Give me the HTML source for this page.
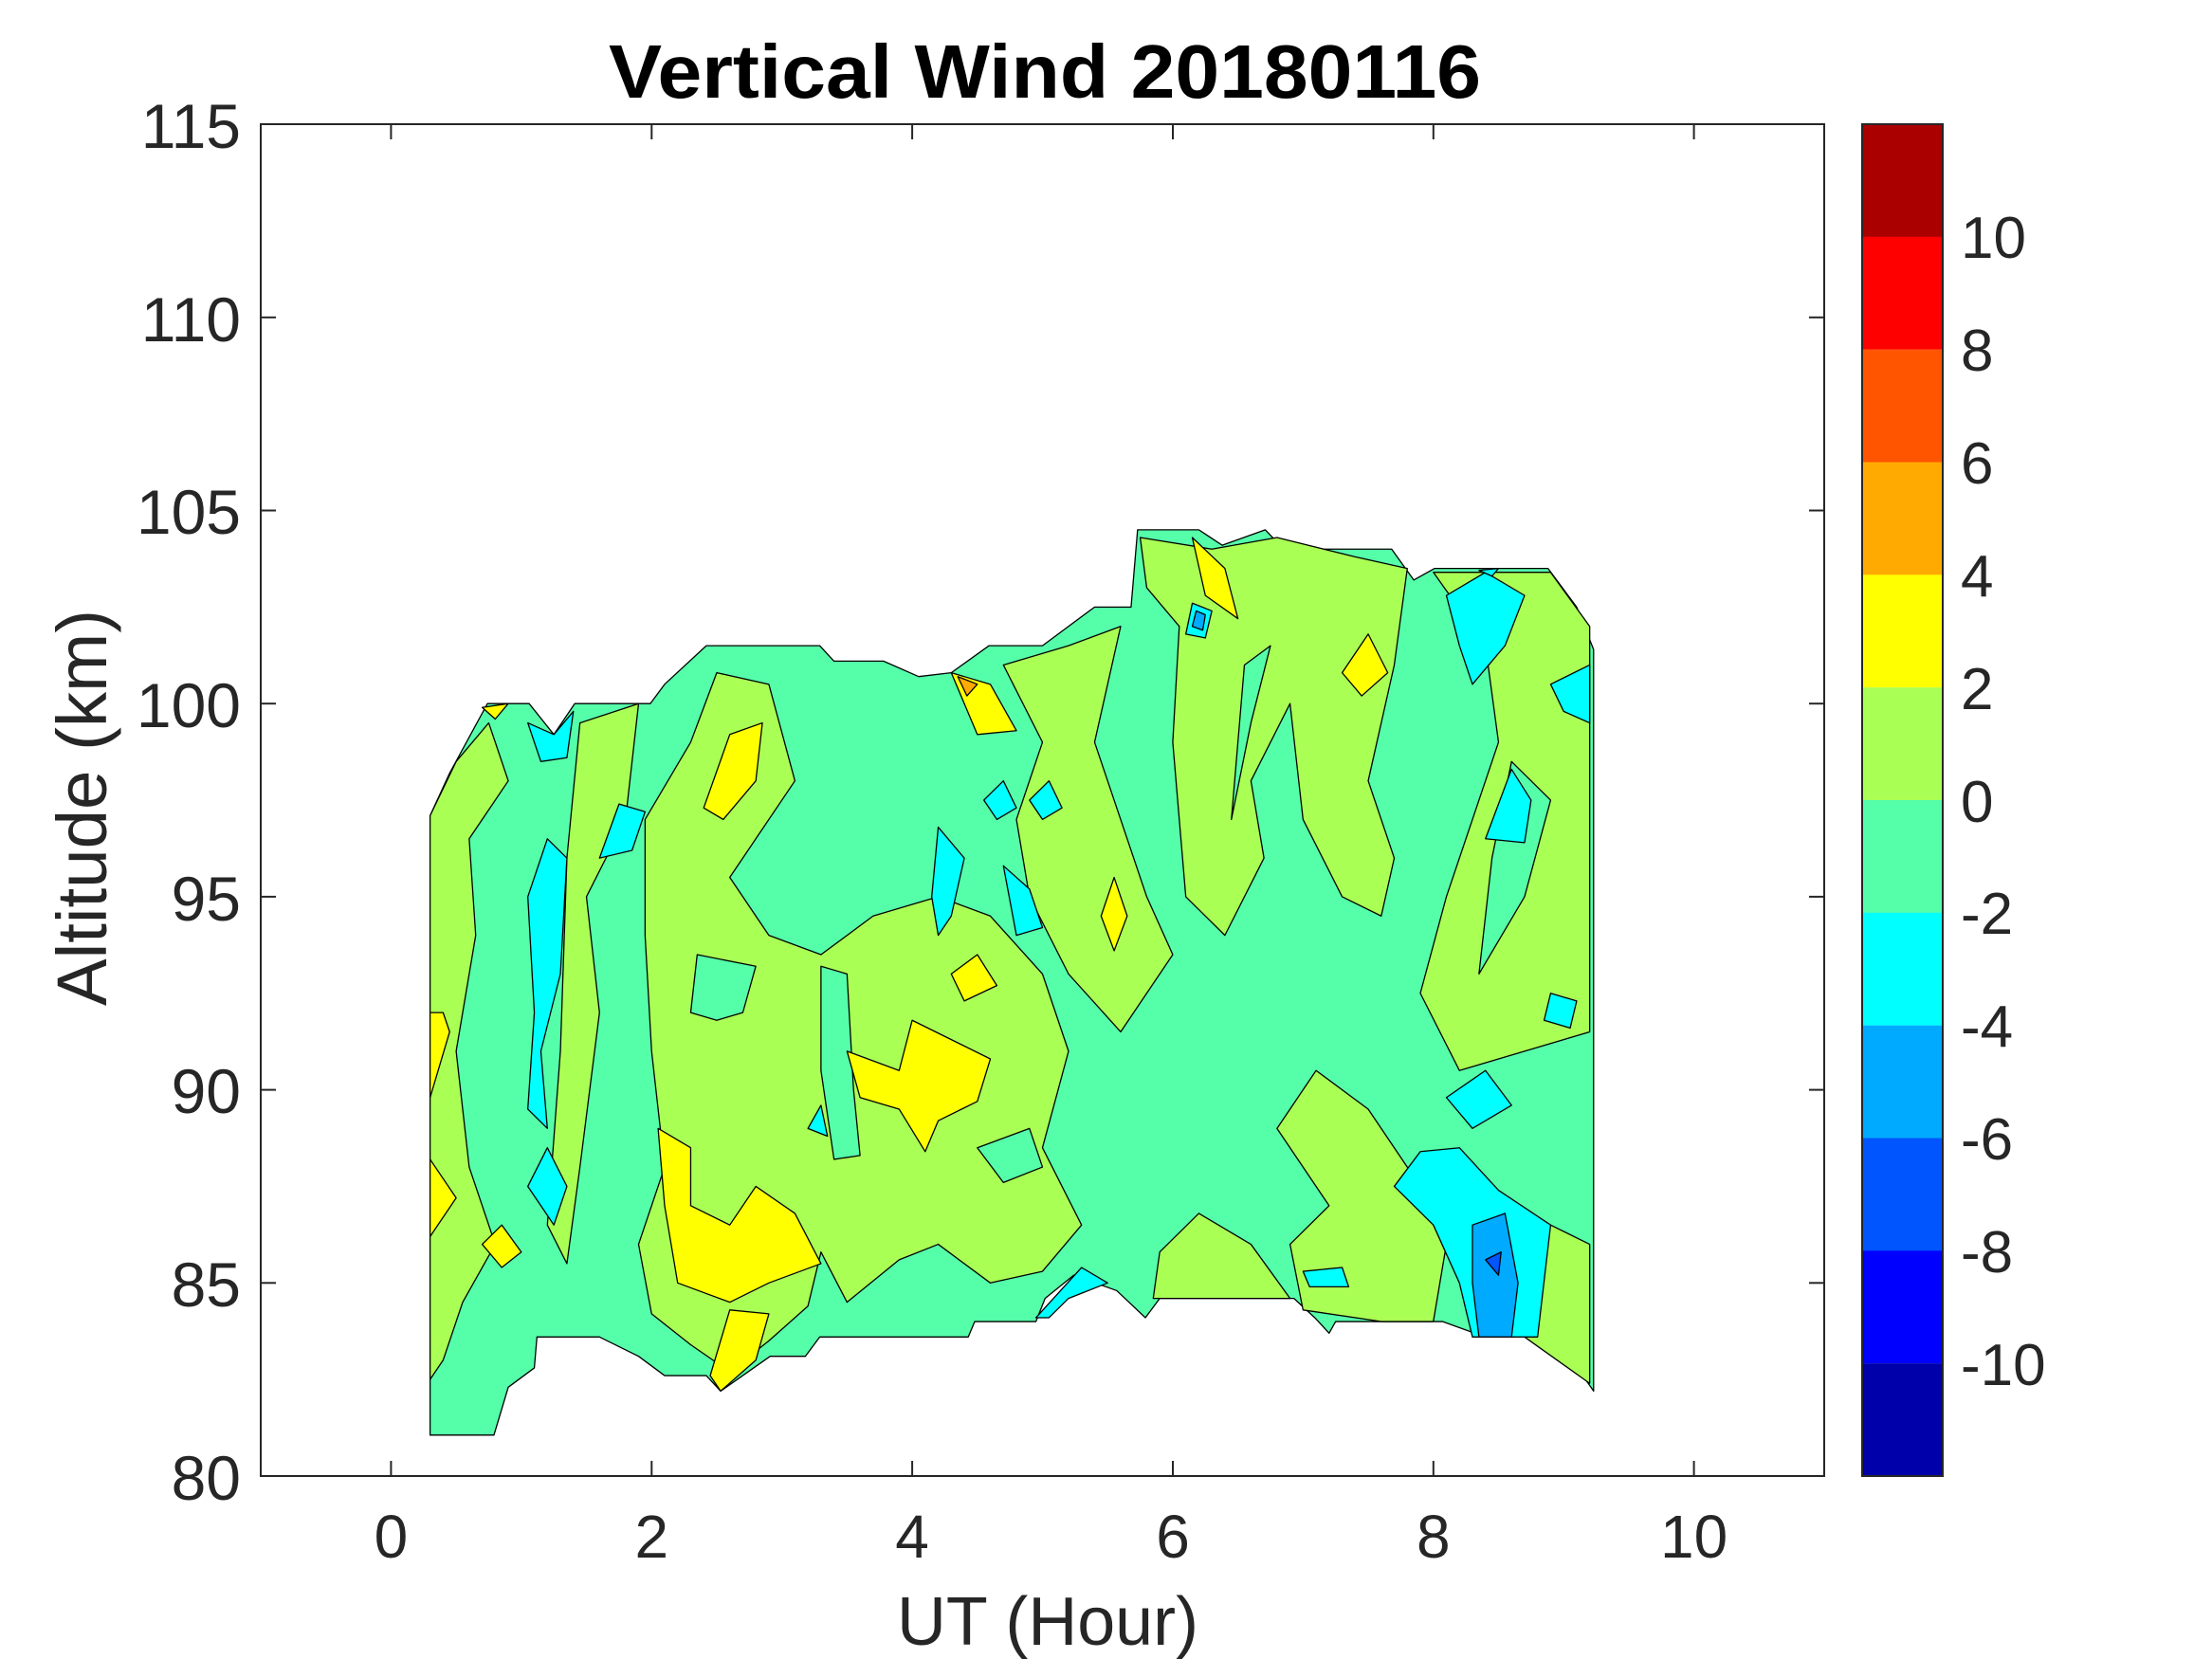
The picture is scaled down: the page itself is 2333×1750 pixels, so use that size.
<!DOCTYPE html>
<html><head><meta charset="utf-8"><style>
html,body{margin:0;padding:0;background:#fff}
svg{display:block}
text{font-family:"Liberation Sans",sans-serif;fill:#262626}
.p polygon{stroke:#000;stroke-width:1.3;vector-effect:non-scaling-stroke;stroke-linejoin:round}
</style></head><body>
<svg width="2333" height="1750" viewBox="0 0 2333 1750" xmlns="http://www.w3.org/2000/svg">
<rect width="2333" height="1750" fill="#fff"/>
<g class="p" transform="translate(412.4,4816.2) scale(137.42,-40.74)">
<polygon fill="#55FFAA" points="0.3,81.06 0.3,97.1 0.45,98.2 0.74,100 1.06,100 1.25,99.2 1.41,100 1.99,100 2.1,100.5 2.42,101.5 3.29,101.5 3.4,101.1 3.78,101.1 4.05,100.7 4.3,100.8 4.59,101.5 5.0,101.5 5.4,102.5 5.68,102.5 5.73,104.5 6.2,104.5 6.38,104.1 6.71,104.5 6.85,104 7.47,104 7.68,104 7.85,103.2 8.01,103.5 8.88,103.5 9.1,102.5 9.23,101.4 9.23,82.2 8.94,83.6 8.4,83.6 8.07,84 7.25,84 7.2,83.7 7.09,84.1 6.93,84.6 5.9,84.6 5.79,84.1 5.57,84.8 5.24,85.2 5.02,84.6 4.95,84 4.48,84 4.43,83.6 3.29,83.6 3.18,83.1 2.91,83.1 2.53,82.2 2.42,82.6 2.1,82.6 1.9,83.1 1.6,83.6 1.12,83.6 1.1,82.8 0.9,82.3 0.79,81.06"/>
<polygon fill="#AAFF55" points="0.3,97.1 0.5,98.5 0.75,99.5 0.9,98 0.6,96.5 0.65,94 0.5,91 0.6,88 0.8,86 0.55,84.5 0.4,83 0.3,82.5"/>
<polygon fill="#AAFF55" points="1.45,99.5 1.9,100 1.8,97 1.5,95 1.6,92 1.45,88 1.35,85.5 1.2,86.5 1.3,91 1.35,96"/>
<polygon fill="#AAFF55" points="1.95,97 2.3,99 2.5,100.8 2.9,100.5 3.1,98 2.8,96.5 2.6,95.5 2.9,94 3.3,93.5 3.7,94.5 4.2,95 4.6,94.5 5.0,93 5.2,91 5.0,88.5 5.3,86.5 5.0,85.3 4.6,85 4.2,86 3.9,85.6 3.5,84.5 3.3,85.8 3.2,84.4 2.9,83.5 2.6,82.7 2.3,83.4 2.0,84.2 1.9,86 2.1,88 2.0,91 1.95,94"/>
<polygon fill="#AAFF55" points="4.7,101 5.2,101.5 5.6,102 5.4,99 5.6,97 5.8,95 6.0,93.5 5.6,91.5 5.2,93 4.9,95 4.8,97 5.0,99"/>
<polygon fill="#AAFF55" points="5.75,104.3 6.3,104 6.8,104.3 7.4,103.8 7.8,103.5 7.7,101 7.5,98 7.7,96 7.6,94.5 7.3,95 7.0,97 6.9,100 6.6,98 6.7,96 6.4,94 6.1,95 6.0,99 6.05,102 5.8,103"/>
<polygon fill="#AAFF55" points="8.0,103.4 8.4,101.5 8.5,99 8.3,97 8.1,95 7.9,92.5 8.2,90.5 8.7,91 9.2,91.5 9.2,102 8.9,103.4"/>
<polygon fill="#AAFF55" points="7.0,84.3 7.6,84 8.0,84 8.1,86 7.8,88 7.5,89.5 7.1,90.5 6.8,89 7.2,87 6.9,86"/>
<polygon fill="#AAFF55" points="8.7,83.6 9.2,82.4 9.2,86 8.9,86.5"/>
<polygon fill="#AAFF55" points="5.85,84.6 6.9,84.6 6.6,86 6.2,86.8 5.9,85.8"/>
<polygon fill="#55FFAA" points="3.3,93.2 3.5,93 3.55,90 3.6,88.3 3.4,88.2 3.3,90.5"/>
<polygon fill="#55FFAA" points="2.3,92 2.35,93.5 2.8,93.2 2.7,92 2.5,91.8"/>
<polygon fill="#55FFAA" points="4.5,88.5 4.9,89 5.0,88 4.7,87.6"/>
<polygon fill="#55FFAA" points="6.45,97 6.6,99.5 6.75,101.5 6.55,101"/>
<polygon fill="#55FFAA" points="8.35,93 8.7,95 8.9,97.5 8.6,98.5 8.45,96"/>
<polygon fill="#FFFF00" points="2.05,89 2.3,88.5 2.3,87 2.6,86.5 2.8,87.5 3.1,86.8 3.3,85.5 2.9,85 2.6,84.5 2.2,85 2.1,87"/>
<polygon fill="#FFFF00" points="3.5,91 3.9,90.5 4.0,91.8 4.3,91.3 4.6,90.8 4.5,89.7 4.2,89.2 4.1,88.4 3.9,89.5 3.6,89.8"/>
<polygon fill="#FFFF00" points="2.4,97.3 2.6,99.2 2.85,99.5 2.8,98 2.55,97"/>
<polygon fill="#FFFF00" points="0.3,89.8 0.45,91.5 0.4,92 0.3,92"/>
<polygon fill="#FFFF00" points="0.3,86.2 0.5,87.2 0.3,88.2"/>
<polygon fill="#FFFF00" points="5.45,94.5 5.55,95.5 5.65,94.5 5.55,93.6"/>
<polygon fill="#FFFF00" points="6.15,104.3 6.4,103.5 6.5,102.2 6.25,102.8"/>
<polygon fill="#FFFF00" points="7.3,100.8 7.5,101.8 7.65,100.8 7.45,100.2"/>
<polygon fill="#FFFF00" points="2.45,82.6 2.53,82.2 2.8,83 2.9,84.2 2.6,84.3"/>
<polygon fill="#FFFF00" points="4.3,93 4.5,93.5 4.65,92.7 4.4,92.3"/>
<polygon fill="#FFFF00" points="0.7,86 0.85,86.5 1.0,85.8 0.85,85.4"/>
<polygon fill="#FFFF00" points="4.3,100.8 4.6,100.5 4.8,99.3 4.5,99.2 4.4,100"/>
<polygon fill="#FFAA00" points="4.35,100.7 4.5,100.5 4.42,100.2"/>
<polygon fill="#FFFF00" points="0.7,99.9 0.9,100 0.8,99.6"/>
<polygon fill="#00FFFF" points="1.05,95 1.2,96.5 1.35,96 1.3,93 1.15,91 1.2,89 1.05,89.5 1.1,92"/>
<polygon fill="#00FFFF" points="1.05,87.5 1.2,88.5 1.35,87.5 1.25,86.5"/>
<polygon fill="#00FFFF" points="1.6,96 1.75,97.4 1.95,97.2 1.85,96.2"/>
<polygon fill="#00FFFF" points="1.05,99.5 1.25,99.2 1.4,99.8 1.35,98.6 1.15,98.5"/>
<polygon fill="#00FFFF" points="4.2,96.8 4.4,96 4.3,94.5 4.2,94 4.15,95"/>
<polygon fill="#00FFFF" points="4.7,95.8 4.9,95.2 5.0,94.2 4.8,94"/>
<polygon fill="#00FFFF" points="4.55,97.5 4.7,98 4.8,97.3 4.65,97"/>
<polygon fill="#00FFFF" points="4.9,97.5 5.05,98 5.15,97.3 5.0,97"/>
<polygon fill="#00FFFF" points="8.1,102.8 8.4,103.4 8.7,102.8 8.55,101.5 8.3,100.5 8.2,101.5"/>
<polygon fill="#00FFFF" points="8.9,100.5 9.2,101 9.2,99.5 9.0,99.8"/>
<polygon fill="#00FFFF" points="8.4,96.5 8.6,98.3 8.75,97.5 8.7,96.4"/>
<polygon fill="#00FFFF" points="8.9,92.5 9.1,92.3 9.05,91.6 8.85,91.8"/>
<polygon fill="#00FFFF" points="8.1,89.8 8.4,90.5 8.6,89.6 8.3,89"/>
<polygon fill="#00FFFF" points="7.9,88.4 8.2,88.5 8.5,87.4 8.9,86.5 8.8,83.6 8.3,83.6 8.2,85 8.0,86.5 7.7,87.5"/>
<polygon fill="#00AAFF" points="8.3,86.5 8.55,86.8 8.65,85 8.6,83.6 8.35,83.6 8.3,85"/>
<polygon fill="#0055FF" points="8.4,85.6 8.52,85.8 8.5,85.2"/>
<polygon fill="#00FFFF" points="4.95,84.1 5.3,85.4 5.5,85 5.2,84.6 5.05,84.1"/>
<polygon fill="#00FFFF" points="7.0,85.3 7.3,85.4 7.35,84.9 7.05,84.9"/>
<polygon fill="#00FFFF" points="6.1,101.8 6.15,102.6 6.3,102.4 6.25,101.7"/>
<polygon fill="#00AAFF" points="6.15,102 6.18,102.4 6.25,102.3 6.23,101.9"/>
<polygon fill="#00FFFF" points="3.2,89 3.3,89.6 3.35,88.8"/>
<polygon fill="#00FFFF" points="8.35,103.45 8.5,103.5 8.45,103.3"/>
</g>
<rect x="275" y="131" width="1649" height="1426" fill="none" stroke="#262626" stroke-width="2"/>
<g stroke="#262626" stroke-width="2">
<line x1="412.4" y1="1557" x2="412.4" y2="1541"/><line x1="412.4" y1="131" x2="412.4" y2="147"/>
<line x1="687.3" y1="1557" x2="687.3" y2="1541"/><line x1="687.3" y1="131" x2="687.3" y2="147"/>
<line x1="962.1" y1="1557" x2="962.1" y2="1541"/><line x1="962.1" y1="131" x2="962.1" y2="147"/>
<line x1="1237" y1="1557" x2="1237" y2="1541"/><line x1="1237" y1="131" x2="1237" y2="147"/>
<line x1="1511.8" y1="1557" x2="1511.8" y2="1541"/><line x1="1511.8" y1="131" x2="1511.8" y2="147"/>
<line x1="1786.6" y1="1557" x2="1786.6" y2="1541"/><line x1="1786.6" y1="131" x2="1786.6" y2="147"/>
<line x1="275" y1="1353.3" x2="291" y2="1353.3"/><line x1="1924" y1="1353.3" x2="1908" y2="1353.3"/>
<line x1="275" y1="1149.6" x2="291" y2="1149.6"/><line x1="1924" y1="1149.6" x2="1908" y2="1149.6"/>
<line x1="275" y1="945.9" x2="291" y2="945.9"/><line x1="1924" y1="945.9" x2="1908" y2="945.9"/>
<line x1="275" y1="742.2" x2="291" y2="742.2"/><line x1="1924" y1="742.2" x2="1908" y2="742.2"/>
<line x1="275" y1="538.5" x2="291" y2="538.5"/><line x1="1924" y1="538.5" x2="1908" y2="538.5"/>
<line x1="275" y1="334.8" x2="291" y2="334.8"/><line x1="1924" y1="334.8" x2="1908" y2="334.8"/>
</g>
<g font-size="64" text-anchor="middle">
<text x="412.4" y="1643">0</text><text x="687.3" y="1643">2</text><text x="962.1" y="1643">4</text>
<text x="1237" y="1643">6</text><text x="1511.8" y="1643">8</text><text x="1786.6" y="1643">10</text>
</g>
<g font-size="66" text-anchor="end">
<text x="254" y="1582">80</text><text x="254" y="1378">85</text><text x="254" y="1174">90</text>
<text x="254" y="971">95</text><text x="254" y="767">100</text><text x="254" y="563">105</text>
<text x="254" y="360">110</text><text x="254" y="156">115</text>
</g>
<text x="1105" y="1735" font-size="72" text-anchor="middle" textLength="318" lengthAdjust="spacingAndGlyphs">UT (Hour)</text>
<text transform="translate(112,852) rotate(-90)" font-size="74" text-anchor="middle" textLength="418" lengthAdjust="spacingAndGlyphs">Altitude (km)</text>
<text x="1102" y="103" font-size="80" font-weight="bold" text-anchor="middle" style="fill:#000" textLength="920" lengthAdjust="spacingAndGlyphs">Vertical Wind 20180116</text>
<g>
<rect x="1964" y="131" width="85" height="119" fill="#AA0000"/>
<rect x="1964" y="249.8" width="85" height="119" fill="#FF0000"/>
<rect x="1964" y="368.7" width="85" height="119" fill="#FF5500"/>
<rect x="1964" y="487.5" width="85" height="119" fill="#FFAA00"/>
<rect x="1964" y="606.3" width="85" height="119" fill="#FFFF00"/>
<rect x="1964" y="725.2" width="85" height="119" fill="#AAFF55"/>
<rect x="1964" y="844" width="85" height="119" fill="#55FFAA"/>
<rect x="1964" y="962.8" width="85" height="119" fill="#00FFFF"/>
<rect x="1964" y="1081.7" width="85" height="119" fill="#00AAFF"/>
<rect x="1964" y="1200.5" width="85" height="119" fill="#0055FF"/>
<rect x="1964" y="1319.3" width="85" height="119" fill="#0000FF"/>
<rect x="1964" y="1438.2" width="85" height="118.8" fill="#0000AA"/>
<rect x="1964" y="131" width="85" height="1426" fill="none" stroke="#262626" stroke-width="2"/>
</g>
<g font-size="62">
<text x="2068" y="272">10</text><text x="2068" y="391">8</text><text x="2068" y="510">6</text>
<text x="2068" y="629">4</text><text x="2068" y="748">2</text><text x="2068" y="867">0</text>
<text x="2068" y="985">-2</text><text x="2068" y="1104">-4</text><text x="2068" y="1223">-6</text>
<text x="2068" y="1342">-8</text><text x="2068" y="1461">-10</text>
</g>
</svg>
</body></html>
